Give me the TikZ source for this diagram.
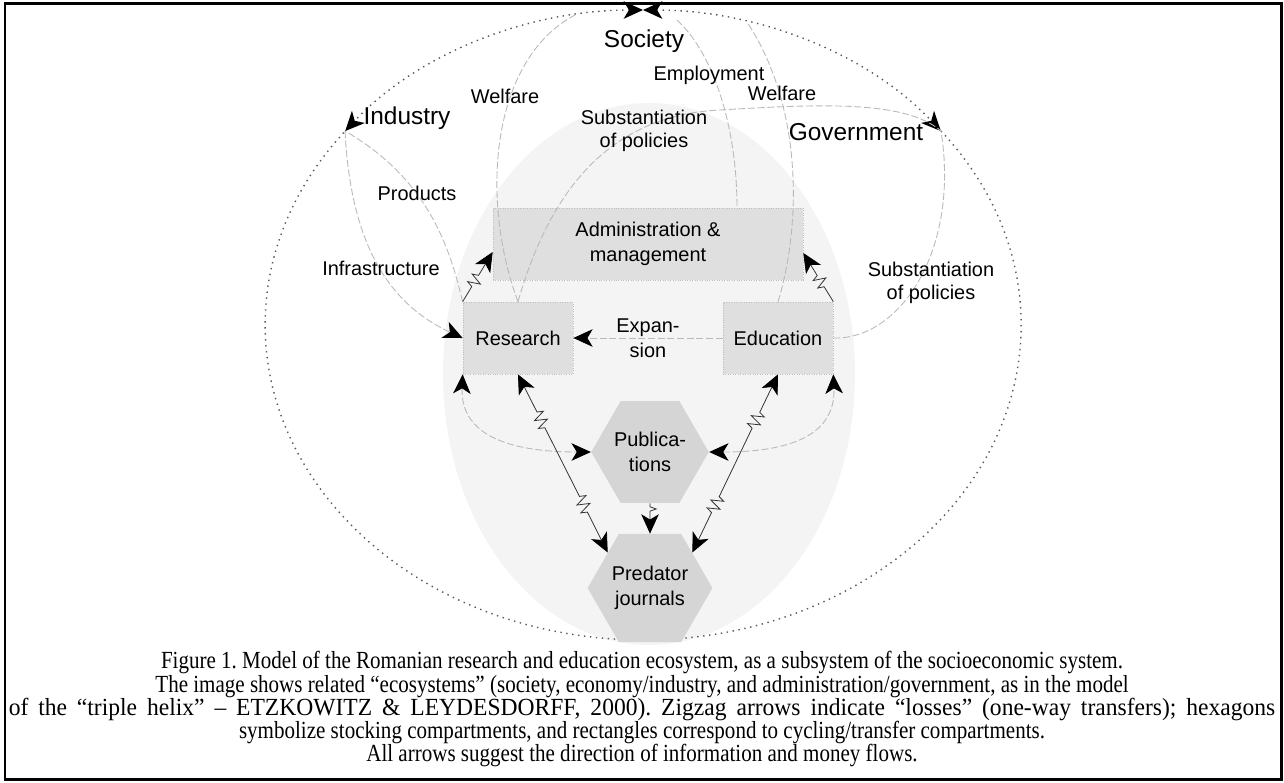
\documentclass[tikz,border=0pt]{standalone}
\usepackage{fontspec}
\usepackage{graphicx}
\setmainfont{Liberation Sans}
\newfontfamily\capfont{Liberation Serif}[FakeStretch=0.855]
\usetikzlibrary{arrows.meta, shapes.geometric, decorations.pathmorphing, calc}

\begin{document}
\begin{tikzpicture}[x = 0.02cm, y = -0.02cm,
	fwd/.style = {-{Stealth[length = 11pt, width = 10pt, inset = 3pt, color = black]}},
	bwd/.style = {{Stealth[length = 11pt, width = 10pt, inset = 3pt, color = black]}-},
	dbl/.style = {{Stealth[length = 11pt, width = 10pt, inset = 3pt, color = black]}-{Stealth[length = 11pt, width = 10pt, inset = 3pt, color = black]}},
	box/.style = {draw = gray!50, densely dotted, fill = gray!25, inner sep = 0pt, align = center, font = \fontsize{11.34}{14}\selectfont},
	hexa/.style = {regular polygon, regular polygon sides = 6, minimum size = 2.2cm, inner sep = 0pt, fill = gray!33, align = center, font = \fontsize{11.34}{14}\selectfont},
	big/.style = {inner sep = 0pt, font = \fontsize{13.9}{16}\selectfont},
	lab/.style = {inner sep = 0pt, align = center, font = \fontsize{11.34}{13}\selectfont},
	ring/.style = {black!65, line width = 0.8pt, dash pattern = on 0.8pt off 2.6pt},
	flow/.style = {gray!55, line width = 0.5pt, dash pattern = on 4pt off 1.5pt},
	loss/.style 2 args = {black!80, line width = 0.45pt, decorate, decoration = {zigzag, segment length = 5pt, amplitude = 3.5pt, pre length = #1, post length = #2}}]
	\useasboundingbox (0,0) rectangle (1284,782);
	\draw[line width = 1.7pt] (5,3.5) rectangle (1281,779);
	\fill[gray!9] (649,374) ellipse [x radius = 206, y radius = 271];

	\coordinate (socpt) at (643,10);
	\coordinate (indpt) at (345,131);
	\coordinate (govpt) at (941,131);
	\coordinate (wel1pt) at (575,15);
	\coordinate (wel2pt) at (747,22);
	\coordinate (emppt) at (677,20);

	\draw[ring, dbl] (socpt) arc [start angle = -90, end angle = -142, x radius = 378, y radius = 315];
	\draw[ring, dbl] (socpt) arc [start angle = -90, end angle = -38, x radius = 378, y radius = 315];
	\draw[ring] (govpt) arc [start angle = -38, end angle = 218, x radius = 378, y radius = 315];

	\node[box, minimum width = 6.2cm, minimum height = 1.44cm] (adm) at (648,244) {Administration \&\\management};
	\node[box, minimum width = 2.2cm, minimum height = 1.44cm] (res) at (518,338) {Research};
	\node[box, minimum width = 2.2cm, minimum height = 1.44cm] (edu) at (778,338) {Education};
	\node[hexa] (pub) at (650,452) {Publica-\\tions};
	\node[hexa] (pred) at (650,588) {Predator\\journals};

	\draw[flow] (res.north) .. controls (480,200) and (490,60) .. (wel1pt);
	\draw[flow] (res.north) .. controls (550,190) and (610,115) .. (720,110) .. controls (820,104) and (905,100) .. (govpt);
	\draw[flow] (emppt) .. controls (715,55) and (737,130) .. ([xshift = 1.78cm]adm.north);
	\draw[flow] (edu.north) .. controls (800,230) and (805,110) .. (wel2pt);
	\draw[flow] (res.north west) .. controls (450,250) and (430,180) .. (indpt);
	\draw[flow, fwd] (indpt) .. controls (350,230) and (380,300) .. (res.west);
	\draw[flow] (edu.east) .. controls (900,340) and (960,250) .. (govpt);
	\draw[flow, fwd] (edu.west) -- (res.east);
	\draw[flow, dbl] (res.south west) .. controls (460,440) and (520,452) .. (pub.west);
	\draw[flow, dbl] (pub.east) .. controls (780,452) and (836,440) .. (edu.south east);

	\draw[loss = {10pt}{15pt}, fwd] (res.north west) -- (adm.west |- 0,252);
	\draw[loss = {10pt}{15pt}, fwd] (edu.north east) -- (adm.east |- 0,253);
	\draw[loss = {2pt}{12pt}, fwd] (pub.south) -- (pred.north);
	\foreach \a/\b in {res.south/pred.140, edu.south/pred.40} {
		\coordinate (mid) at ($(\a)!0.5!(\b)$);
		\draw[loss = {24pt}{21pt}, bwd] (\a) -- (mid);
		\draw[loss = {21pt}{24pt}, fwd] (mid) -- (\b);
	}

	\node[big] (soc) at (644,41) {Society};
	\node[big] (ind) at (407,118) {Industry};
	\node[big] (gov) at (856,132) {Government};
	\node[lab] (wel1) at (505,96) {Welfare};
	\node[lab] (emp) at (709,75) {Employment};
	\node[lab] (wel2) at (782,93) {Welfare};
	\node[lab] (subs1) at (644,131) {Substantiation\\of policies};
	\node[lab] (prod) at (417,193) {Products};
	\node[lab] (infra) at (381,268) {Infrastructure};
	\node[lab] (subs2) at (931,283) {Substantiation\\of policies};
	\node[lab, font = \fontsize{11.34}{14.2}\selectfont] (expan) at (648,338) {Expan-\\sion};

	\node[align = center, inner sep = 0pt, font = \capfont\fontsize{14}{13.1}\selectfont\frenchspacing] (cap) at (642,709) {Figure 1. Model of the Romanian research and education ecosystem, as a subsystem of the socioeconomic system.\\The image shows related “ecosystems” (society, economy/industry, and administration/government, as in the model\\\scalebox{1.12}[1]{\makebox[22.62cm][s]{of the “triple helix” – ETZKOWITZ \& LEYDESDORFF, 2000). Zigzag arrows indicate “losses” (one-way transfers); hexagons}}\\symbolize stocking compartments, and rectangles correspond to cycling/transfer compartments.\\All arrows suggest the direction of information and money flows.};
\end{tikzpicture}
\end{document}
